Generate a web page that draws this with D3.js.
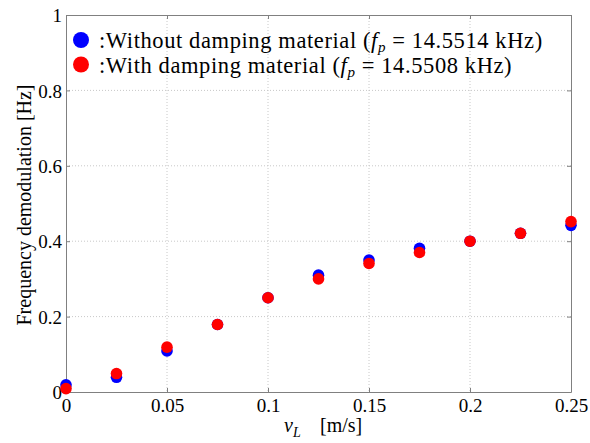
<!DOCTYPE html>
<html><head><meta charset="utf-8">
<script src="https://cdn.jsdelivr.net/npm/d3@7"></script>
<style>
body{margin:0;background:#fff}svg{display:block}
svg text, svg tspan{font-family:'Liberation Serif','Times New Roman',Times,'DejaVu Serif',serif;}
</style>
</head><body><svg id="c" width="590" height="443"></svg>
<script>
const vL = [0, 0.025, 0.05, 0.075, 0.1, 0.125, 0.15, 0.175, 0.2, 0.225, 0.25];
const withoutDamping = [0.019, 0.039, 0.109, 0.179, 0.25, 0.31, 0.35, 0.381, 0.40, 0.421, 0.442];
const withDamping = [0.009, 0.049, 0.119, 0.179, 0.25, 0.30, 0.341, 0.370, 0.40, 0.421, 0.452];
const xTicks = [0, 0.05, 0.1, 0.15, 0.2, 0.25];
const yTicks = [0, 0.2, 0.4, 0.6, 0.8, 1];
const series = [
  {name: ":Without damping material (", fp: "14.5514", color: "#0000ff", values: withoutDamping},
  {name: ":With damping material (", fp: "14.5508", color: "#ff0000", values: withDamping}
];
const FONT = "'Liberation Serif', 'Times New Roman', serif";

const svg = d3.select("#c");
const L = 66, R = 571, T = 15, B = 392;
const x = d3.scaleLinear().domain([0, 0.25]).range([L, R]);
const y = d3.scaleLinear().domain([0, 1]).range([B, T]);
const axisColor = "#808080";

// grid
const g = svg.append("g");
g.selectAll(".gx").data(xTicks.slice(1, -1)).join("line")
  .attr("x1", d => x(d)).attr("x2", d => x(d)).attr("y1", T).attr("y2", B)
  .attr("stroke", "#c8c8c8").attr("stroke-dasharray", "1,2").attr("stroke-width", 1);
g.selectAll(".gy").data(yTicks.slice(1, -1)).join("line")
  .attr("y1", d => y(d)).attr("y2", d => y(d)).attr("x1", L).attr("x2", R)
  .attr("stroke", "#c8c8c8").attr("stroke-dasharray", "1,2").attr("stroke-width", 1);

// axes
const fmt = d => d === 0 ? "0" : String(d);
const axB = svg.append("g").attr("transform", `translate(0,${B})`)
  .call(d3.axisBottom(x).tickValues(xTicks).tickFormat(fmt).tickSizeInner(-4).tickSizeOuter(0).tickPadding(7));
const axT = svg.append("g").attr("transform", `translate(0,${T})`)
  .call(d3.axisTop(x).tickValues(xTicks).tickFormat("").tickSizeInner(-4).tickSizeOuter(0));
const axLft = svg.append("g").attr("transform", `translate(${L},0)`)
  .call(d3.axisLeft(y).tickValues(yTicks).tickFormat(fmt).tickSizeInner(-4).tickSizeOuter(0).tickPadding(4));
const axRt = svg.append("g").attr("transform", `translate(${R},0)`)
  .call(d3.axisRight(y).tickValues(yTicks).tickFormat("").tickSizeInner(-4).tickSizeOuter(0));
[axB, axT, axLft, axRt].forEach(a => {
  a.attr("font-family", null);
  a.select(".domain").attr("stroke", axisColor);
  a.selectAll(".tick line").attr("stroke", axisColor);
  a.selectAll("text").attr("font-size", 19).attr("fill", "#000").style("font-family", FONT);
});
axLft.selectAll("text").attr("dy", "0.35em");

// points
series.forEach(s => {
  svg.append("g").selectAll("circle").data(vL).join("circle")
    .attr("cx", d => x(d)).attr("cy", (d, i) => y(s.values[i])).attr("r", 5.8)
    .attr("fill", s.color);
});

// legend
series.forEach((s, i) => {
  const cy = 40 + i * 24.5;
  svg.append("circle").attr("cx", 81).attr("cy", cy).attr("r", 8).attr("fill", s.color);
  const t = svg.append("text").attr("x", 99).attr("y", cy + 8).attr("font-size", 22.5)
    .attr("letter-spacing", 0.6).style("font-family", FONT);
  t.append("tspan").text(s.name);
  t.append("tspan").attr("font-style", "italic").text("f");
  t.append("tspan").attr("font-style", "italic").attr("font-size", 15).attr("dy", 4).text("p");
  t.append("tspan").attr("dy", -4).text(" = " + s.fp + " kHz)");
});

// axis labels
svg.append("text").attr("transform", "translate(31,205) rotate(-90)").style("font-family", FONT)
  .attr("text-anchor", "middle").attr("font-size", 20).text("Frequency demodulation  [Hz]");
const xl = svg.append("text").attr("x", 284).attr("y", 432).attr("font-size", 20).style("font-family", FONT);
xl.append("tspan").attr("font-style", "italic").text("v");
xl.append("tspan").attr("font-style", "italic").attr("font-size", 14).attr("dy", 5).text("L");
xl.append("tspan").attr("x", 320).attr("dy", -5).text("[m/s]");
</script></body></html>
